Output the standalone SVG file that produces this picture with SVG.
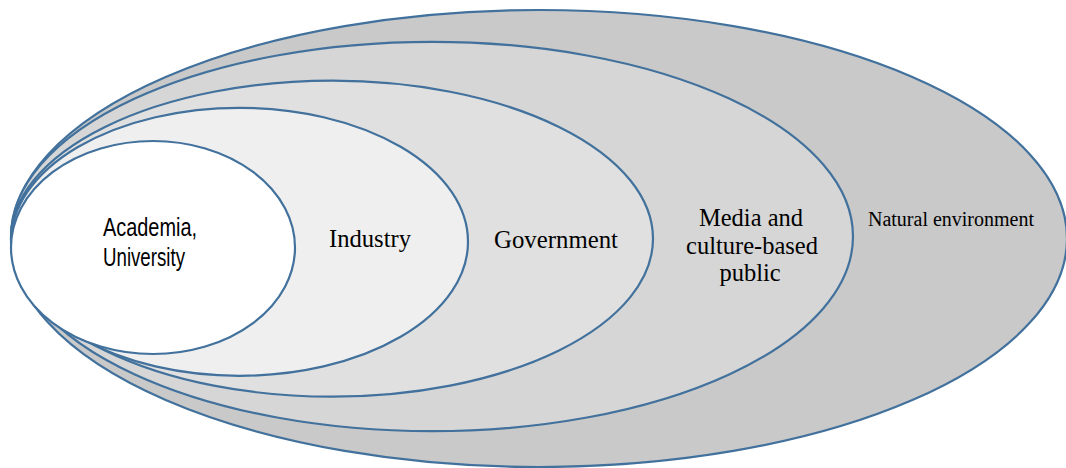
<svg xmlns="http://www.w3.org/2000/svg" width="1066" height="468" viewBox="0 0 1066 468">
<style>
.ring{stroke:#41719c;stroke-width:2.2}
.serif{font-family:"Liberation Serif","Times New Roman",serif;fill:#000}
.sans{font-family:"Liberation Sans",Arial,sans-serif;fill:#000;font-size:26px}
</style>
<rect width="1066" height="468" fill="#ffffff"/>
<g id="natural-environment">
<ellipse class="ring" cx="539" cy="238.5" rx="528" ry="228.5" fill="#c9c9c9"/>
<text class="serif" x="951" y="226" font-size="20" text-anchor="middle">Natural environment</text>
</g>
<g id="media-public">
<ellipse class="ring" cx="432" cy="236.5" rx="421" ry="194.7" fill="#d6d6d6"/>
<text class="serif" font-size="24.5" text-anchor="middle"><tspan x="751" y="226">Media and</tspan><tspan x="752" y="253.5">culture-based</tspan><tspan x="750" y="281">public</tspan></text>
</g>
<g id="government">
<ellipse class="ring" cx="332" cy="238.7" rx="321" ry="158" fill="#e0e0e0"/>
<text class="serif" x="556" y="248" font-size="24.8" text-anchor="middle">Government</text>
</g>
<g id="industry">
<ellipse class="ring" cx="239.5" cy="241.8" rx="228.5" ry="134" fill="#efefef"/>
<text class="serif" x="370" y="247" font-size="24.6" text-anchor="middle">Industry</text>
</g>
<g id="academia">
<ellipse class="ring" cx="153" cy="247.5" rx="142" ry="106.5" fill="#ffffff"/>
<text class="sans"><tspan x="103" y="235.5" textLength="94" lengthAdjust="spacingAndGlyphs">Academia,</tspan><tspan x="103" y="265.5" textLength="82" lengthAdjust="spacingAndGlyphs">University</tspan></text>
</g>
<g id="connectors"/>
</svg>
